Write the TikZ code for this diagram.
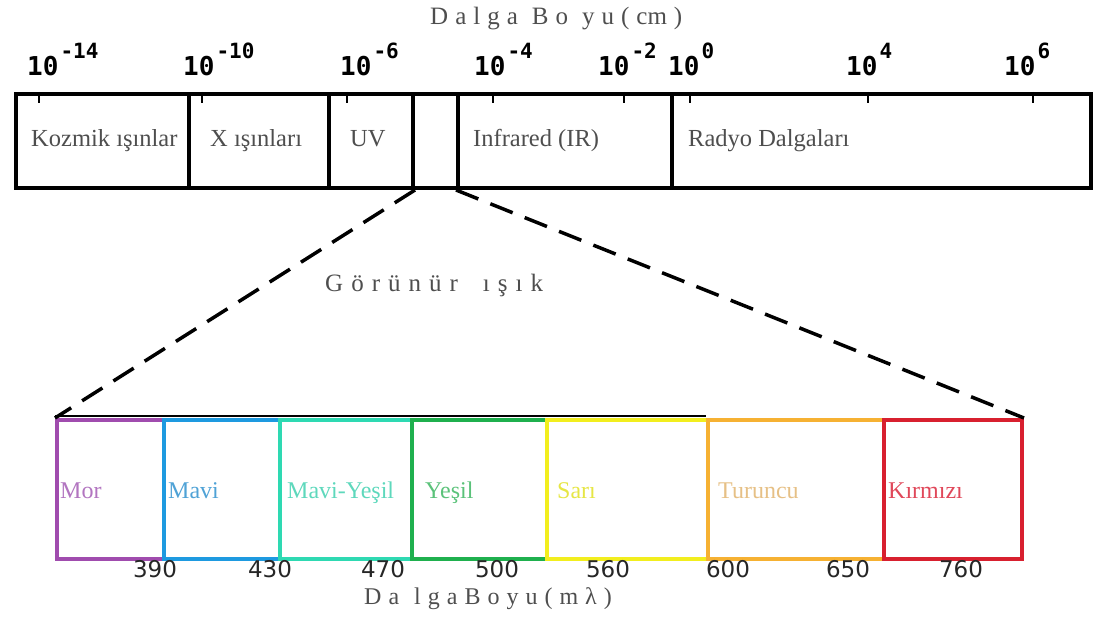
\documentclass[tikz,border=0pt]{standalone}
\usepackage{fontspec}
\setmainfont{Liberation Serif}
\newfontfamily\monof{DejaVu Sans Mono}
\newfontfamily\sansf{DejaVu Sans}
\definecolor{txtgray}{HTML}{4E4E4E}
\definecolor{cmor}{HTML}{A04CAE}
\definecolor{cmavi}{HTML}{1E9AE0}
\definecolor{cturk}{HTML}{2ED9B2}
\definecolor{cyesil}{HTML}{1FB04E}
\definecolor{csari}{HTML}{F2EE1E}
\definecolor{cturuncu}{HTML}{F6B132}
\definecolor{ckirmizi}{HTML}{D8202F}
\definecolor{tmor}{HTML}{B275C0}
\definecolor{tmavi}{HTML}{4FA2D6}
\definecolor{tturk}{HTML}{5ED8BC}
\definecolor{tyesil}{HTML}{5BC27A}
\definecolor{tsari}{HTML}{E6E645}
\definecolor{tturuncu}{HTML}{E6C086}
\definecolor{tkirmizi}{HTML}{E0485A}
\tikzset{
  band/.style={draw=black, line width=4pt, rectangle, inner sep=0pt, anchor=north west},
  cbox/.style={line width=4pt, rectangle, inner sep=0pt, anchor=north west, minimum height=139pt},
  blabel/.style={anchor=base west, inner sep=0pt, text=txtgray, font=\fontsize{24.5}{24.5}\selectfont},
  clabel/.style={anchor=base west, inner sep=0pt, font=\fontsize{24}{24}\selectfont},
  exlabel/.style={anchor=base west, inner sep=0pt, font=\fontsize{26}{26}\monof\bfseries},
  numlabel/.style={anchor=base, inner sep=0pt, text=black!85, font=\fontsize{23}{23}\sansf},
  tick/.style={line width=2pt},
  zoomline/.style={line width=3.5pt, dash pattern=on 24pt off 13pt},
  spaced/.style={inner sep=0pt, anchor=base west, text=txtgray, font=\fontsize{25}{25}\selectfont}
}
\newcommand{\expo}[1]{10\hspace{2pt}\raisebox{17pt}{\fontsize{21}{21}\selectfont #1}}
\newcommand{\ga}{\hspace{7pt}}
\newcommand{\gb}{\hspace{8pt}}
\begin{document}
\begin{tikzpicture}[x=1pt,y=-1pt]
\useasboundingbox (0,0) rectangle (1097,617);
% title
\node[spaced] (title) at (430,25) {D\ga a\ga l\ga g\ga a\hspace{14pt}B\ga o\hspace{14pt}y\ga u\ga (\ga cm\ga )};
% exponent labels
\node[exlabel] (e1) at (27,76) {\expo{-14}};
\node[exlabel] (e2) at (183,76) {\expo{-10}};
\node[exlabel] (e3) at (340,76) {\expo{-6}};
\node[exlabel] (e4) at (474,76) {\expo{-4}};
\node[exlabel] (e5) at (598,76) {\expo{-2}};
\node[exlabel] (e6) at (668,76) {\expo{0}};
\node[exlabel] (e7) at (846,76) {\expo{4}};
\node[exlabel] (e8) at (1004,76) {\expo{6}};
% top bands
\node[band, minimum width=173pt, minimum height=94pt] (koz) at (14,92) {};
\node[band, minimum width=140pt, minimum height=94pt] (xr) at (187,92) {};
\node[band, minimum width=84pt, minimum height=94pt] (uv) at (327,92) {};
\node[band, minimum width=45pt, minimum height=94pt] (gap) at (411,92) {};
\node[band, minimum width=214pt, minimum height=94pt] (ir) at (456,92) {};
\node[band, minimum width=419pt, minimum height=94pt] (rad) at (670,92) {};
% ticks
\foreach \x in {39,202,347,493,624,690,868,1033}
  \draw[tick] (\x,92) -- (\x,103);
% band labels
\node[blabel] (lkoz) at (31,147) {Kozmik ışınlar};
\node[blabel] (lxr) at (210,147) {X ışınları};
\node[blabel] (luv) at (350,147) {UV};
\node[blabel] (lir) at (473,147) {Infrared (IR)};
\node[blabel] (lrad) at (688,147) {Radyo Dalgaları};
% visible label
\node[spaced] (gor) at (325,292) {G\gb ö\gb r\gb ü\gb n\gb ü\gb r\hspace{25pt}ı\gb ş\gb ı\gb k};
% black rails under the coloured boxes
\draw[line width=2.5pt] (55,416) -- (706,416);
\draw[line width=2.5pt] (55,559) -- (1020,559);
% coloured boxes
\node[cbox, draw=cmor, minimum width=107pt] (mor) at (55,418) {};
\node[cbox, draw=cmavi, minimum width=116pt] (mavi) at (162,418) {};
\node[cbox, draw=cturk, minimum width=132pt] (turk) at (278,418) {};
\node[cbox, draw=cyesil, minimum width=135pt] (yesil) at (410,418) {};
\node[cbox, draw=csari, minimum width=161pt] (sari) at (545,418) {};
\node[cbox, draw=cturuncu, minimum width=176pt] (tur) at (706,418) {};
\node[cbox, draw=ckirmizi, minimum width=138pt] (kir) at (882,418) {};
% zoom lines
\draw[zoomline] (uv.south east) -- (mor.north west);
\draw[zoomline] (ir.south west) -- (kir.north east);
% colour labels
\node[clabel, text=tmor] (lmor) at (60,498) {Mor};
\node[clabel, text=tmavi] (lmavi) at (168,498) {Mavi};
\node[clabel, text=tturk] (lturk) at (287,498) {Mavi-Yeşil};
\node[clabel, text=tyesil] (lyesil) at (425,498) {Yeşil};
\node[clabel, text=tsari] (lsari) at (557,498) {Sarı};
\node[clabel, text=tturuncu] (ltur) at (718,498) {Turuncu};
\node[clabel, text=tkirmizi] (lkir) at (888,498) {Kırmızı};
% numbers
\node[numlabel] (n1) at (155,577) {390};
\node[numlabel] (n2) at (270,577) {430};
\node[numlabel] (n3) at (383,577) {470};
\node[numlabel] (n4) at (497,577) {500};
\node[numlabel] (n5) at (608,577) {560};
\node[numlabel] (n6) at (728,577) {600};
\node[numlabel] (n7) at (848,577) {650};
\node[numlabel] (n8) at (961,577) {760};
% bottom axis title
\node[spaced, font=\fontsize{24}{24}\selectfont] (btitle) at (364,604) {D\ga a\hspace{15pt}l\ga g\ga a\ga B\ga o\ga y\ga u\ga (\ga m\ga λ\ga )};
\end{tikzpicture}
\end{document}
